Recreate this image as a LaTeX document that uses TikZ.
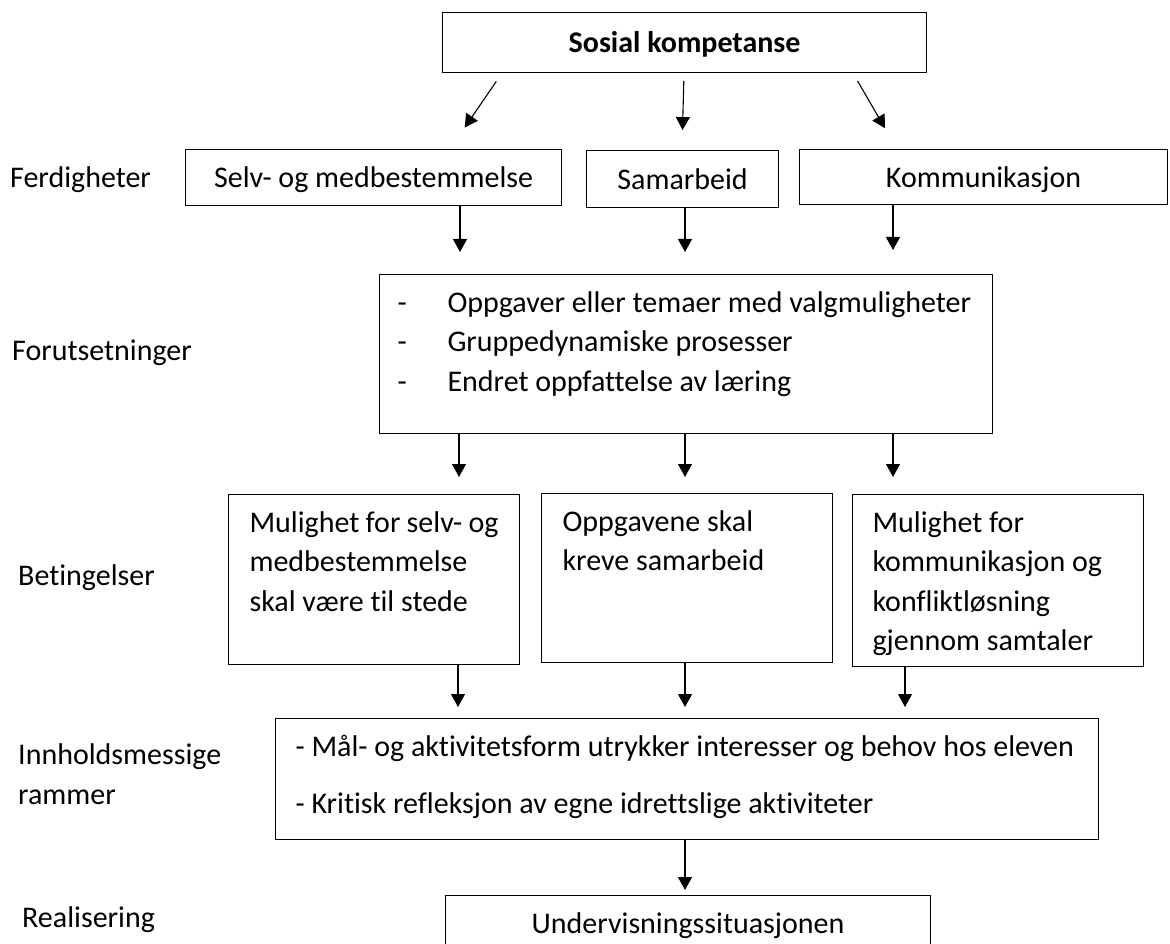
\documentclass[tikz,border=0pt]{standalone}
\usepackage{fontspec}
\setmainfont{Carlito}[Ligatures={NoCommon}]
\usetikzlibrary{arrows.meta,positioning,calc}

\begin{document}
\begin{tikzpicture}[
    x=1pt, y=-1pt,
    font=\fontsize{30}{39.5}\selectfont,
    boks/.style={draw, line width=1.1pt, inner sep=0pt, anchor=north west},
    enkel/.style={text height=24pt, text depth=4pt},
    pil/.style={-{Triangle[width=14pt,length=13pt]}, line width=1.1pt},
    nivaa/.style={anchor=base west, inner sep=0pt, align=left}
  ]
    \path[use as bounding box, clip] (0,0) rectangle (1170,944);

    % --- NIVAA ---
    \node[nivaa] (ferd)  at (10,188)  {Ferdigheter};
    \node[nivaa] (forl)  at (12,360)  {Forutsetninger};
    \node[nivaa] (bet)   at (18,585)  {Betingelser};
    \node[nivaa] (innl)  at (18,804)  {Innholdsmessige\\rammer};
    \node[nivaa] (real)  at (22,927)  {Realisering};

    % --- TOPP ---
    \node[boks, enkel, minimum width=484pt, minimum height=60pt,
          font=\fontsize{30}{39.5}\selectfont\bfseries] (sosial) at (442,12) {Sosial kompetanse};

    % --- FERDIGHETER ---
    \node[boks, enkel, minimum width=376pt, minimum height=56pt] (selv) at (185,149) {Selv- og medbestemmelse};
    \node[boks, enkel, minimum width=192pt, minimum height=57pt] (samarbeid) at (586,150) {Samarbeid};
    \node[boks, enkel, minimum width=368pt, minimum height=55pt] (komm) at (799,149) {Kommunikasjon};

    % --- FORUTSETNINGER ---
    \node[boks, inner xsep=18pt, inner ysep=10pt] (forut) at (379,274) {\parbox[c][139pt][t]{577pt}{\strut
        \makebox[50pt][l]{-}Oppgaver eller temaer med valgmuligheter\\
        \makebox[50pt][l]{-}Gruppedynamiske prosesser\\
        \makebox[50pt][l]{-}Endret oppfattelse av læring}};

    % --- BETINGELSER ---
    \node[boks, inner xsep=21pt, inner ysep=10pt] (b1) at (228,494) {\parbox[c][150pt][t]{249pt}{\strut
        Mulighet for selv- og\\medbestemmelse\\skal være til stede}};
    \node[boks, inner xsep=21pt, inner ysep=10pt] (b2) at (541,493) {\parbox[c][149pt][t]{249pt}{\strut
        Oppgavene skal\\kreve samarbeid}};
    \node[boks, inner xsep=20pt, inner ysep=10pt] (b3) at (852,494) {\parbox[c][152pt][t]{251pt}{\strut
        Mulighet for\\kommunikasjon og\\konfliktløsning\\gjennom samtaler}};

    % --- INNHOLD ---
    \node[boks, inner xsep=20pt, inner ysep=10pt] (innhold) at (275,718) {\parbox[c][101pt][t]{783pt}{\strut
        - Mål- og aktivitetsform utrykker interesser og behov hos eleven\\[17.5pt]
        - Kritisk refleksjon av egne idrettslige aktiviteter}};

    % --- REALISERING ---
    \node[boks, inner xsep=0pt, inner ysep=10pt] (undervisning) at (445,895) {\parbox[c][90pt][t]{485pt}{\centering\strut
        Undervisningssituasjonen}};

    % --- PILER ---
    \draw[pil, shorten <=10pt, shorten >=26pt] ([xshift=60pt]sosial.south west) -- ([xshift=265pt]selv.north west);
    \draw[pil, shorten <=8pt, shorten >=20pt] ([xshift=242pt]sosial.south west) -- ([xshift=96pt]samarbeid.north west);
    \draw[pil, shorten <=9pt, shorten >=24pt] ([xshift=411pt]sosial.south west) -- ([xshift=98pt]komm.north west);

    \draw[pil, shorten >=22pt] ([xshift=275pt]selv.south west) -- ([xshift=81pt]forut.north west);
    \draw[pil, shorten >=22pt] ([xshift=99pt]samarbeid.south west) -- ([xshift=306pt]forut.north west);
    \draw[pil, shorten >=24pt] ([xshift=94pt]komm.south west) -- ([xshift=514pt]forut.north west);

    \draw[pil, shorten >=17pt] ([xshift=80pt]forut.south west) -- ([xshift=231pt]b1.north west);
    \draw[pil, shorten >=16pt] ([xshift=306pt]forut.south west) -- ([xshift=144pt]b2.north west);
    \draw[pil, shorten >=17pt] ([xshift=514pt]forut.south west) -- ([xshift=41pt]b3.north west);

    \draw[pil, shorten >=11pt] ([xshift=230pt]b1.south west) -- ([xshift=183pt]innhold.north west);
    \draw[pil, shorten >=11pt] ([xshift=144pt]b2.south west) -- ([xshift=410pt]innhold.north west);
    \draw[pil, shorten >=11pt] ([xshift=53pt]b3.south west) -- ([xshift=630pt]innhold.north west);

    \draw[pil, shorten >=5pt] ([xshift=410pt]innhold.south west) -- ([xshift=240pt]undervisning.north west);
\end{tikzpicture}
\end{document}
